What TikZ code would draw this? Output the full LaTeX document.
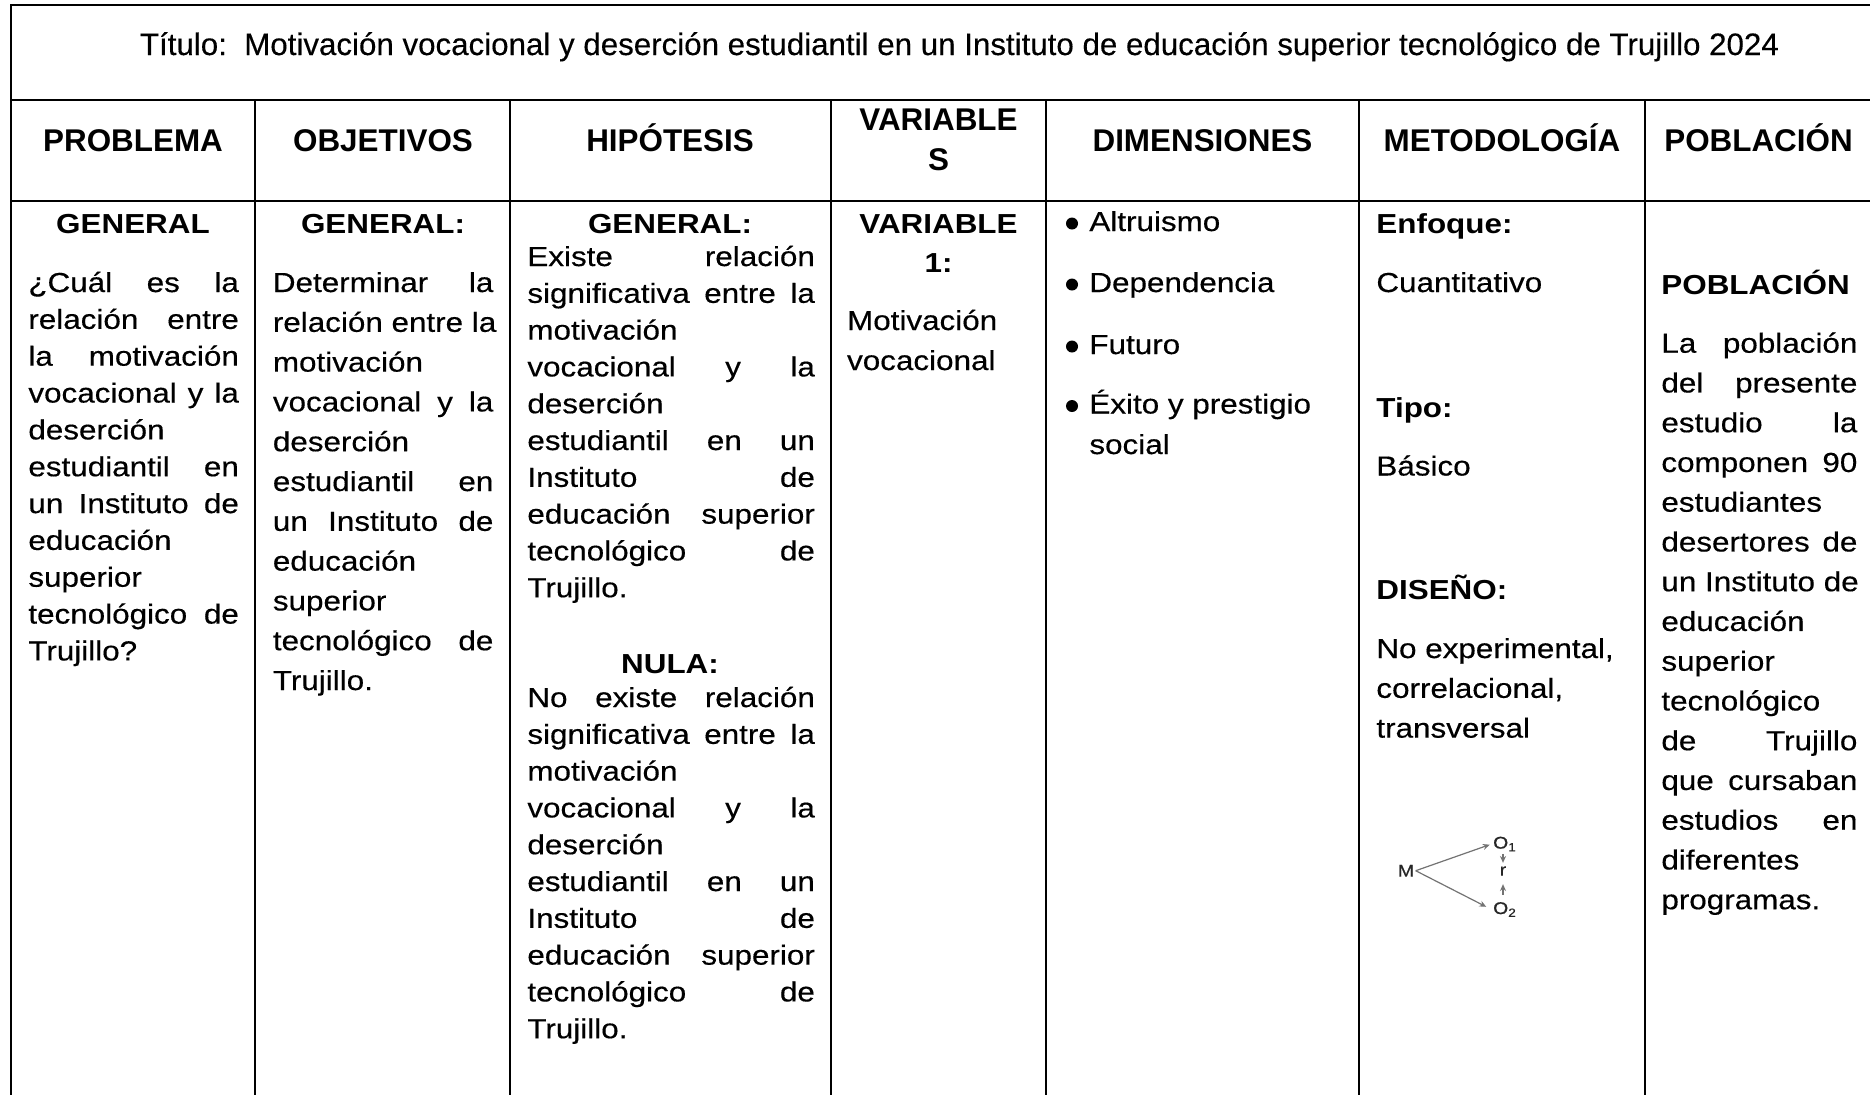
\documentclass[tikz,border=0pt]{standalone}
\usepackage{fontspec}
\usepackage{graphicx}
\setmainfont{Liberation Sans}
\newfontfamily\bodyf{Liberation Sans}[FakeStretch=1.142,UprightFeatures={FakeBold=0.4}]
\newfontfamily\titlef{Liberation Sans}[FakeBold=0.3]
\usetikzlibrary{arrows.meta}
\newcommand\jline[1]{\hbox to\hsize{\spaceskip=\fontdimen2\font plus 1fil\relax #1}}
\newcommand\lline[1]{\hbox{#1}}
\newcommand\cellbox[3]{\vtop{\hsize=#1\baselineskip=#2\lineskiplimit=-1000pt\lineskip=0pt\parindent=0pt\relax #3}}
\tikzset{
  txt/.style={inner sep=0pt, anchor=base west, font=\bodyf\fontsize{13.75}{18}\selectfont},
  btxt/.style={inner sep=0pt, anchor=base west, font=\bodyf\bfseries\fontsize{13.75}{18}\selectfont},
  bctr/.style={inner sep=0pt, anchor=base, font=\bodyf\bfseries\fontsize{13.75}{18}\selectfont},
  hd/.style={inner sep=0pt, anchor=base, font=\bfseries\fontsize{15.7}{20}\selectfont},
  rule/.style={line width=1pt, line cap=rect},
  dot/.style={circle, fill=black, inner sep=0pt, minimum size=6pt},
  dg/.style={inner sep=0.6pt, font=\bodyf\fontsize{8.5}{9}\selectfont, text=black!85},
  arr/.style={-{Stealth[length=3.4pt,width=3pt]}, draw=black!55, line width=0.6pt}
}
\begin{document}
\begin{tikzpicture}[x=0.5pt,y=-0.5pt]
\useasboundingbox (0,0) rectangle (1870,1094);
\fill[white] (0,0) rectangle (1870,1094);
% table rules
\draw[rule] (11,5) -- (1875,5);
\draw[rule] (11,99.5) -- (1875,99.5);
\draw[rule] (11,201) -- (1875,201);
\draw[rule] (11,5) -- (11,1100);
\foreach \cx in {255.3,510,830.7,1045.5,1359,1645}
  \draw[rule] (\cx,99.5) -- (\cx,1100);
% title
\node[inner sep=0pt, anchor=base, font=\titlef\fontsize{15.5}{17}\selectfont] (title) at (959.5,55)
  {\resizebox{819.5pt}{\height}{Título:\ \ Motivación vocacional y deserción estudiantil en un Instituto de educación superior tecnológico de Trujillo 2024}};
% headers
\node[hd] (hprob) at (133,151) {PROBLEMA};
\node[hd] (hobj) at (383,151) {OBJETIVOS};
\node[hd] (hhip) at (670,151) {HIPÓTESIS};
\node[hd] (hvar1) at (938.5,130) {VARIABLE};
\node[hd] (hvar2) at (938.5,170) {S};
\node[hd] (hdim) at (1202.5,151) {DIMENSIONES};
\node[hd] (hmet) at (1502,151) {METODOLOGÍA};
\node[hd] (hpob) at (1758.5,151) {POBLACIÓN};
% PROBLEMA
\node[bctr] (pgen) at (133,233) {GENERAL};
\node[txt] (ptext) at (28,292) {\cellbox{105.25pt}{18.42pt}{%
\jline{¿Cuál es la}
\jline{relación entre}
\jline{la motivación}
\jline{vocacional y la}
\lline{deserción}
\jline{estudiantil en}
\jline{un Instituto de}
\lline{educación}
\lline{superior}
\jline{tecnológico de}
\lline{Trujillo?}}};
% OBJETIVOS
\node[bctr] (ogen) at (383,233) {GENERAL:};
\node[txt] (otext) at (272.5,292) {\cellbox{110.25pt}{19.9pt}{%
\jline{Determinar la}
\jline{relación entre la}
\lline{motivación}
\jline{vocacional y la}
\lline{deserción}
\jline{estudiantil en}
\jline{un Instituto de}
\lline{educación}
\lline{superior}
\jline{tecnológico de}
\lline{Trujillo.}}};
% HIPOTESIS
\node[bctr] (hgen) at (670,233) {GENERAL:};
\node[txt] (htext) at (527,266) {\cellbox{143.75pt}{18.4pt}{%
\jline{Existe relación}
\jline{significativa entre la}
\lline{motivación}
\jline{vocacional y la}
\lline{deserción}
\jline{estudiantil en un}
\jline{Instituto de}
\jline{educación superior}
\jline{tecnológico de}
\lline{Trujillo.}}};
\node[bctr] (hnula) at (670,673) {NULA:};
\node[txt] (ntext) at (527,707) {\cellbox{143.75pt}{18.4pt}{%
\jline{No existe relación}
\jline{significativa entre la}
\lline{motivación}
\jline{vocacional y la}
\lline{deserción}
\jline{estudiantil en un}
\jline{Instituto de}
\jline{educación superior}
\jline{tecnológico de}
\lline{Trujillo.}}};
% VARIABLES
\node[bctr] (v1a) at (938.5,233) {VARIABLE};
\node[bctr] (v1b) at (938.5,272.5) {1:};
\node[txt] (vtext) at (846.7,330) {\cellbox{100pt}{20pt}{%
\lline{Motivación}
\lline{vocacional}}};
% DIMENSIONES
\node[dot] (b1) at (1072,223.5) {};
\node[dot] (b2) at (1072,284.5) {};
\node[dot] (b3) at (1072,346.5) {};
\node[dot] (b4) at (1072,406) {};
\node[txt] (d1) at (1089,231) {Altruismo};
\node[txt] (d2) at (1089,292) {Dependencia};
\node[txt] (d3) at (1089,354) {Futuro};
\node[txt] (d4) at (1089,413.5) {\cellbox{120pt}{20.25pt}{%
\lline{Éxito y prestigio}
\lline{social}}};
% METODOLOGIA
\node[btxt] (menf) at (1376,233) {Enfoque:};
\node[txt] (mcua) at (1376,292) {Cuantitativo};
\node[btxt] (mtip) at (1376,417) {Tipo:};
\node[txt] (mbas) at (1376,475.5) {Básico};
\node[btxt] (mdis) at (1376,599.5) {DISEÑO:};
\node[txt] (mtext) at (1376,658) {\cellbox{125pt}{19.9pt}{%
\lline{No experimental,}
\lline{correlacional,}
\lline{transversal}}};
% design diagram
\node[dg] (M) at (1406,870.7) {M};
\node[dg] (O1) at (1505,844) {O\textsubscript{1}};
\node[dg] (r) at (1503,871) {r};
\node[dg] (O2) at (1505,909.5) {O\textsubscript{2}};
\draw[arr, shorten >=1pt] (M.east) -- (O1.west);
\draw[arr, shorten >=3pt] (M.east) -- (O2.west);
\draw[arr, shorten <=0.5pt, shorten >=1pt] (O1.south -| r.north) -- (r.north);
\draw[arr, shorten <=3pt, shorten >=3.5pt] (O2.north -| r.south) -- (r.south);
% POBLACION
\node[btxt] (ppob) at (1661,294) {POBLACIÓN};
\node[txt] (pbtext) at (1661,352.7) {\cellbox{98pt}{19.875pt}{%
\jline{La población}
\jline{del presente}
\jline{estudio la}
\jline{componen 90}
\lline{estudiantes}
\jline{desertores de}
\jline{un Instituto de}
\lline{educación}
\lline{superior}
\lline{tecnológico}
\jline{de Trujillo}
\jline{que cursaban}
\jline{estudios en}
\lline{diferentes}
\lline{programas.}}};
\end{tikzpicture}
\end{document}
